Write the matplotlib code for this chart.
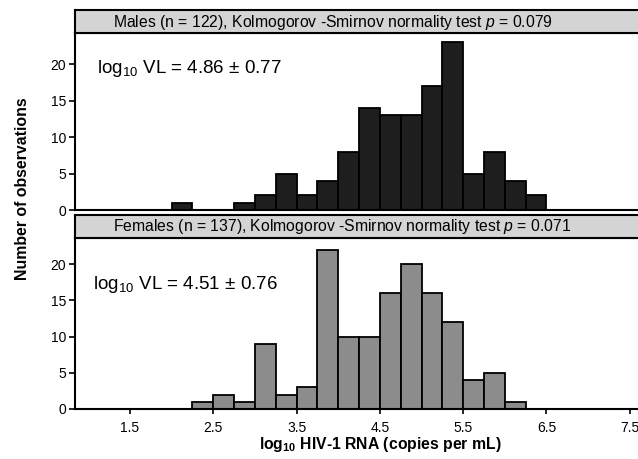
import matplotlib
matplotlib.use("Agg")
import matplotlib.pyplot as plt

plt.rcParams['font.family'] = ['Liberation Sans', 'DejaVu Sans']
plt.rcParams['mathtext.fontset'] = 'custom'
plt.rcParams['mathtext.rm'] = 'Liberation Sans'
plt.rcParams['mathtext.it'] = 'Liberation Sans:italic'
plt.rcParams['mathtext.bf'] = 'Liberation Sans:bold'

# ---- data ----
bin_width = 0.25
male_bin_starts = [2.0, 2.25, 2.5, 2.75, 3.0, 3.25, 3.5, 3.75, 4.0, 4.25, 4.5,
                   4.75, 5.0, 5.25, 5.5, 5.75, 6.0, 6.25]
male_counts = [1, 0, 0, 1, 2, 5, 2, 4, 8, 14, 13, 13, 17, 23, 5, 8, 4, 2]
female_bin_starts = [2.25, 2.5, 2.75, 3.0, 3.25, 3.5, 3.75, 4.0, 4.25, 4.5,
                     4.75, 5.0, 5.25, 5.5, 5.75, 6.0]
female_counts = [1, 2, 1, 9, 2, 3, 22, 10, 10, 16, 20, 16, 12, 4, 5, 1]
x_ticks = [1.5, 2.5, 3.5, 4.5, 5.5, 6.5, 7.5]
y_ticks = [0, 5, 10, 15, 20]
male_title = r"Males (n = 122), Kolmogorov -Smirnov normality test $\mathit{p}$ = 0.079"
female_title = r"Females (n = 137), Kolmogorov -Smirnov normality test $\mathit{p}$ = 0.071"
male_stat = r"log$_{10}$ VL = 4.86 $\pm$ 0.77"
female_stat = r"log$_{10}$ VL = 4.51 $\pm$ 0.76"

W, H = 638, 459
fig = plt.figure(figsize=(W / 100, H / 100), dpi=100)

def fx(px):
    return px / W

def fy(py):
    return (H - py) / H

left, right = 75, 651
XLIM = (0.84, 7.755)

def make_panel(top_strip, strip_bot, plot_bot, ymax, starts, counts, color,
               title, stat, stat_xy, show_xlabels):
    ax = fig.add_axes([fx(left), fy(plot_bot), fx(right - left),
                       (plot_bot - strip_bot) / H])
    ax.bar(starts, counts, width=bin_width, align='edge', color=color,
           edgecolor='black', linewidth=1.3)
    ax.set_xlim(*XLIM)
    ax.set_ylim(0, ymax)
    ax.set_yticks(y_ticks)
    ax.tick_params(axis='y', direction='out', length=4.5, width=1.2,
                   labelsize=10, pad=2)
    for s in ['left', 'bottom', 'top']:
        ax.spines[s].set_linewidth(1.5)
    ax.spines['right'].set_visible(False)
    ax.set_xticks(x_ticks)
    if show_xlabels:
        ax.tick_params(axis='x', direction='out', length=3.5, width=1.2,
                       labelsize=10, pad=5)
    else:
        ax.tick_params(axis='x', length=0, labelbottom=False)
    ax.text(fx(stat_xy[0]), fy(stat_xy[1]), stat, transform=fig.transFigure,
            fontsize=13.5, ha='left', va='baseline')
    # strip
    sax = fig.add_axes([fx(left), fy(strip_bot), fx(right - left),
                        (strip_bot - top_strip) / H])
    sax.set_facecolor('#d4d4d4')
    sax.set_xticks([])
    sax.set_yticks([])
    for s in ['left', 'bottom', 'top']:
        sax.spines[s].set_linewidth(1.5)
    sax.spines['right'].set_visible(False)
    sax.text(fx(113), fy((top_strip + strip_bot) / 2 + 0.5), title,
             transform=fig.transFigure, fontsize=11.3, ha='left',
             va='center')
    return ax

ax1 = make_panel(10, 33, 210, 24.25, male_bin_starts, male_counts,
                 '#1e1e1e', male_title, male_stat, (97, 73), False)
ax2 = make_panel(215, 238, 409, 23.6, female_bin_starts, female_counts,
                 '#8c8c8c', female_title, female_stat, (93, 289), True)

fig.text(fx(380), fy(445), r"log$_{\mathbf{10}}$ HIV-1 RNA (copies per mL)",
         fontsize=11.3, fontweight='bold', ha='center', va='center')
fig.text(fx(23), fy(189), "Number of observations", fontsize=11.4,
         fontweight='bold', rotation=90, ha='center', va='center')

fig.savefig("out.png", dpi=100)
